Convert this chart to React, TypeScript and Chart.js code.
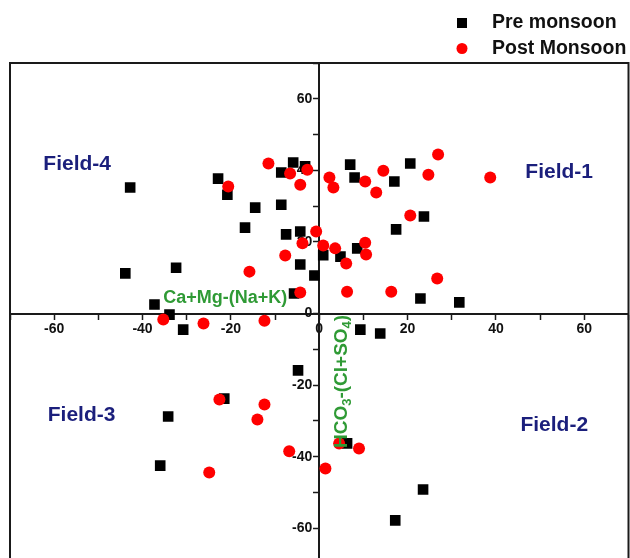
import { useEffect, useRef } from "react";
import { Chart, registerables } from "chart.js";

Chart.register(...registerables);

// Chadha diagram: x = Ca+Mg-(Na+K), y = HCO3-(Cl+SO4), in % meq/l
const preMonsoonX = [
  -42.8, -43.9, -32.4, -37.3, -33.9, -30.8, -22.9, -20.8, -14.5, -16.8,
  -8.6, -8.6, -5.9, -3.2, -7.5, -4.3, -4.3, -5.7, -1.1, 0.9,
  7.0, 8.0, 20.6, 17.0, 23.7, 17.4, 8.6, 4.8, 22.9, 31.7,
  9.3, 13.8, -4.8, -21.5, -34.2, -36.0, 6.3, 23.5, 17.2,
];
const preMonsoonY = [
  35.2, 11.2, 12.8, 2.5, -0.3, -4.5, 37.7, 33.2, 29.6, 24.0,
  30.4, 39.4, 42.2, 41.1, 22.1, 22.9, 13.7, 5.6, 10.6, 16.3,
  41.6, 38.0, 41.9, 36.9, 27.1, 23.5, 18.2, 15.9, 4.2, 3.1,
  -4.5, -5.6, -15.9, -23.8, -28.8, -42.5, -36.3, -49.2, -57.8,
];
const postMonsoonX = [
  -35.3, -26.2, -12.4, -20.6, -11.5, -6.6, -4.3, -2.7, -15.8, -7.7,
  -3.8, -0.7, -4.3, 2.3, 3.2, 10.4, 14.5, 12.9, 26.9, 24.7,
  38.7, 20.6, 0.9, 3.6, 10.4, 10.6, 6.1, 6.3, 16.3, 26.7,
  -22.6, -12.4, -14.0, -6.8, -24.9, 4.5, 9.0, 1.4,
];
const postMonsoonY = [
  -1.7, -2.8, -2.0, 35.5, 41.9, 39.1, 36.0, 40.2, 11.7, 16.2,
  19.6, 22.9, 5.9, 38.0, 35.2, 36.9, 39.9, 33.8, 44.4, 38.8,
  38.0, 27.4, 19.0, 18.2, 19.8, 16.5, 14.0, 6.1, 6.1, 9.8,
  -24.0, -25.4, -29.6, -38.5, -44.4, -36.3, -37.7, -43.3,
];
const seriesNames = ["Pre monsoon", "Post Monsoon"];
const fieldNames = ["Field-1", "Field-2", "Field-3", "Field-4"];
const labelledTicks = [-60, -40, -20, 0, 20, 40, 60];

const FONT = "'Liberation Sans', Arial, sans-serif";
const NAVY = "#1b1f7c";
const GREEN = "#2f9a35";

const toPoints = (xs: number[], ys: number[]) => xs.map((x, i) => ({ x, y: ys[i] }));

// frame around the plot area, quadrant names, axis captions and the legend
const decorations = {
  id: "decorations",
  afterDraw(chart: any) {
    const { ctx, chartArea, scales } = chart;
    const sx = scales.x;
    const sy = scales.y;
    ctx.save();

    ctx.strokeStyle = "#1a1a1a";
    ctx.lineWidth = 2;
    ctx.strokeRect(chartArea.left, chartArea.top, chartArea.right - chartArea.left, chartArea.bottom - chartArea.top);

    // quadrant names
    const fieldPos = [
      [54.3, 39.4],
      [53.2, -31.3],
      [-53.8, -28.5],
      [-54.8, 41.6],
    ];
    ctx.font = `bold 21px ${FONT}`;
    ctx.fillStyle = NAVY;
    ctx.textAlign = "center";
    ctx.textBaseline = "middle";
    fieldNames.forEach((name, i) => {
      ctx.fillText(name, sx.getPixelForValue(fieldPos[i][0]), sy.getPixelForValue(fieldPos[i][1]));
    });

    // horizontal axis caption
    ctx.fillStyle = GREEN;
    ctx.font = `bold 18px ${FONT}`;
    ctx.fillText("Ca+Mg-(Na+K)", sx.getPixelForValue(-21.3), sy.getPixelForValue(4.2));

    // vertical axis caption with subscripts, reading upwards
    ctx.save();
    ctx.translate(sx.getPixelForValue(5.0), sy.getPixelForValue(-37.6));
    ctx.rotate(-Math.PI / 2);
    ctx.textAlign = "left";
    ctx.textBaseline = "middle";
    const parts: [string, boolean][] = [
      ["HCO", false], ["3", true], ["-(Cl+SO", false], ["4", true], [")", false],
    ];
    let cx = 0;
    for (const [t, sub] of parts) {
      ctx.font = sub ? `bold 13px ${FONT}` : `bold 19px ${FONT}`;
      ctx.fillText(t, cx, sub ? 6 : 0);
      cx += ctx.measureText(t).width;
    }
    ctx.restore();

    // legend
    ctx.font = `bold 19.5px ${FONT}`;
    ctx.textAlign = "left";
    ctx.textBaseline = "middle";
    chart.data.datasets.forEach((ds: any, i: number) => {
      const yy = 23 + i * 25.5;
      ctx.fillStyle = ds.backgroundColor;
      if (ds.pointStyle === "rect") {
        ctx.fillRect(457, yy - 5, 10, 10);
      } else {
        ctx.beginPath();
        ctx.arc(462, yy, 5.5, 0, Math.PI * 2);
        ctx.fill();
      }
      ctx.fillStyle = "#111";
      ctx.fillText(ds.label, 492, yy);
    });
    ctx.restore();
  },
};

const axisCommon = {
  type: "linear" as const,
  min: -70,
  max: 70,
  grid: {
    drawOnChartArea: false,
    drawTicks: true,
    tickLength: 5,
    tickWidth: 1.5,
    tickColor: "#1a1a1a",
  },
  border: { display: true, color: "#1a1a1a", width: 2 },
  ticks: {
    stepSize: 10,
    autoSkip: false,
    maxRotation: 0,
    color: "#111",
    font: { family: FONT, weight: "bold" as const, size: 14 },
  },
};

export default function App() {
  const ref = useRef<HTMLCanvasElement>(null);

  useEffect(() => {
    if (!ref.current) return;
    const chart = new Chart(ref.current, {
      type: "scatter",
      data: {
        datasets: [
          {
            label: seriesNames[0],
            data: toPoints(preMonsoonX, preMonsoonY),
            pointStyle: "rect",
            pointRadius: 7.5,
            backgroundColor: "#000000",
            borderColor: "#000000",
            borderWidth: 0,
            order: 2,
          },
          {
            label: seriesNames[1],
            data: toPoints(postMonsoonX, postMonsoonY),
            pointStyle: "circle",
            pointRadius: 6,
            backgroundColor: "#ff0000",
            borderColor: "#ff0000",
            borderWidth: 0,
            order: 1,
          },
        ],
      },
      options: {
        animation: false,
        responsive: false,
        layout: { padding: { left: 10, right: 2, top: 63, bottom: 36 } },
        plugins: { legend: { display: false }, tooltip: { enabled: false } },
        scales: {
          x: {
            ...axisCommon,
            position: { y: 0 } as any,
            ticks: {
              ...axisCommon.ticks,
              padding: 2,
              callback: (v: any) => (labelledTicks.includes(Number(v)) ? String(v) : ""),
            },
          },
          y: {
            ...axisCommon,
            position: { x: 0 } as any,
            ticks: {
              ...axisCommon.ticks,
              // en space keeps the right-aligned labels clear of the tick marks
              callback: (v: any) => (labelledTicks.includes(Number(v)) ? String(v) + "\u2002" : ""),
            },
          },
        },
      },
      plugins: [decorations],
    });
    return () => chart.destroy();
  }, []);

  // the plot frame runs past the right and bottom edges of the visible area
  return (
    <div style={{ position: "absolute", left: 0, top: 0, width: 630, height: 558, overflow: "hidden", background: "#fff" }}>
      <canvas ref={ref} width={636} height={600} style={{ display: "block" }} />
    </div>
  );
}
